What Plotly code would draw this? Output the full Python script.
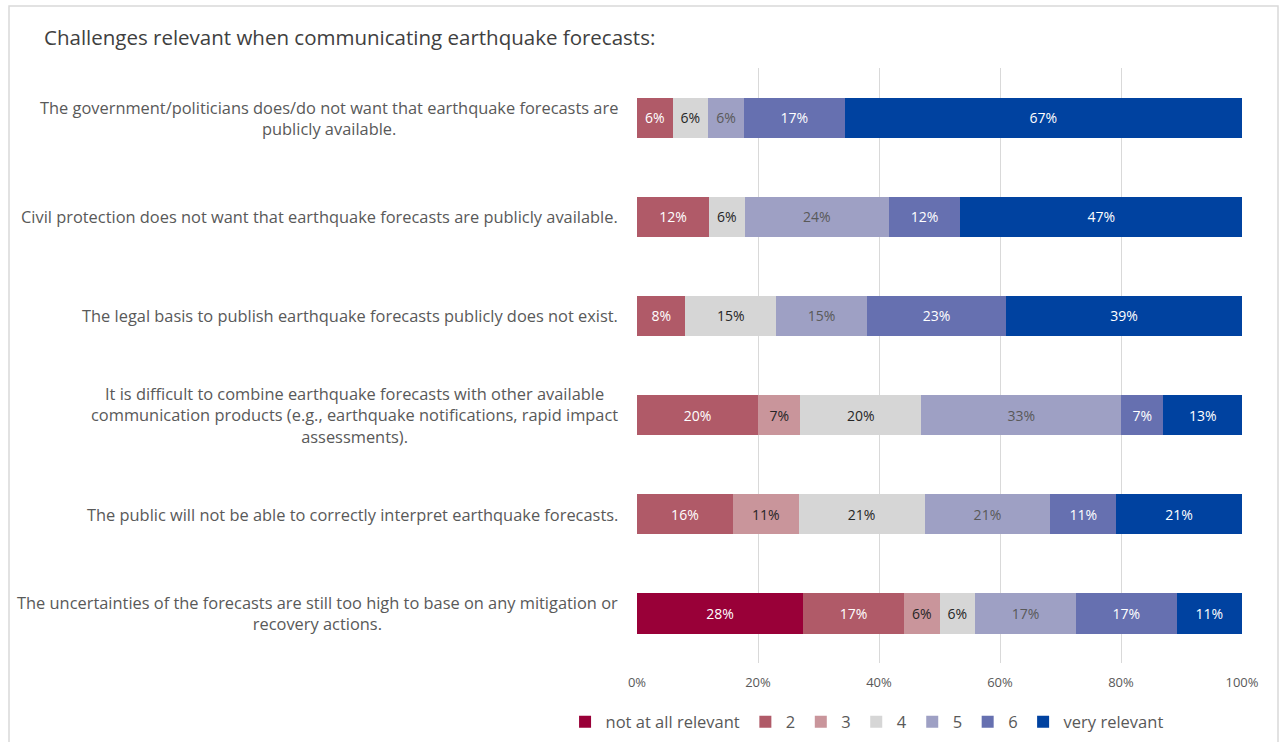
import plotly.graph_objects as go

# Survey statements, listed top to bottom
statements = [
    "The government/politicians does/do not want that earthquake forecasts are<br>publicly available.",
    "Civil protection does not want that earthquake forecasts are publicly available.",
    "The legal basis to publish earthquake forecasts publicly does not exist.",
    "It is difficult to combine earthquake forecasts with other available<br>communication products (e.g., earthquake notifications, rapid impact<br>assessments).",
    "The public will not be able to correctly interpret earthquake forecasts.",
    "The uncertainties of the forecasts are still too high to base on any mitigation or<br>recovery actions.",
]

# Share of answers (%) per relevance level, one value per statement
not_at_all_relevant = [None, None, None, None, None, 28]
level_2 = [6, 12, 8, 20, 16, 17]
level_3 = [None, None, None, 7, 11, 6]
level_4 = [6, 6, 15, 20, 21, 6]
level_5 = [6, 24, 15, 33, 21, 17]
level_6 = [17, 12, 23, 7, 11, 17]
very_relevant = [67, 47, 39, 13, 21, 11]

level_names = ["not at all relevant", "2", "3", "4", "5", "6", "very relevant"]
level_values = [not_at_all_relevant, level_2, level_3, level_4, level_5, level_6, very_relevant]
level_colors = ["#990038", "#B05A68", "#C9959B", "#D6D6D6", "#9EA0C4", "#6670B0", "#0042A0"]
label_colors = ["#FFFFFF", "#FFFFFF", "#262626", "#262626", "#595959", "#FFFFFF", "#FFFFFF"]

tick_values = [0, 20, 40, 60, 80, 100]
tick_labels = ["0%", "20%", "40%", "60%", "80%", "100%"]

FONT = "'Open Sans', Lato, sans-serif"

fig = go.Figure()
for name, vals, color, tcolor in zip(level_names, level_values, level_colors, label_colors):
    fig.add_trace(go.Bar(
        name=name,
        y=statements,
        x=vals,
        orientation="h",
        marker=dict(color=color, line=dict(width=0)),
        text=vals,
        texttemplate="%{text}%",
        textposition="inside",
        insidetextanchor="middle",
        textangle=0,
        constraintext="none",
        textfont=dict(family=FONT, size=14, color=tcolor),
    ))

# Statement labels: centred lines, right edge next to the bars
for s in statements:
    fig.add_annotation(
        xref="paper", yref="y", x=-0.0285, y=s,
        text=s, showarrow=False,
        xanchor="right", yanchor="middle", align="center",
        font=dict(family=FONT, size=16.4, color="#595959"),
    )

# Title
fig.add_annotation(
    xref="paper", yref="paper", x=-0.9835, y=1.052,
    text="Challenges relevant when communicating earthquake forecasts:",
    showarrow=False, xanchor="left", yanchor="middle",
    font=dict(family=FONT, size=20.5, color="#404040"),
)

# Frame around the chart
fig.add_shape(
    type="rect", xref="paper", yref="paper",
    x0=-1.038, x1=1.0595, y0=-0.15, y1=1.104,
    line=dict(color="#D9D9D9", width=1.5), fillcolor="rgba(0,0,0,0)",
    layer="below",
)

fig.update_layout(
    width=1280, height=742,
    margin=dict(l=637, r=38, t=68, b=79, autoexpand=False),
    barmode="stack",
    barnorm="percent",
    bargap=0.595,
    plot_bgcolor="white",
    paper_bgcolor="white",
    showlegend=True,
    legend=dict(
        orientation="h",
        xref="container", yref="container",
        x=0.677, xanchor="center",
        y=0.027, yanchor="middle",
        font=dict(family=FONT, size=16.5, color="#595959"),
        itemwidth=31,
        traceorder="normal",
        itemclick=False, itemdoubleclick=False,
    ),
    xaxis=dict(
        range=[0, 100],
        tickmode="array",
        tickvals=tick_values,
        ticktext=tick_labels,
        showgrid=True,
        gridcolor="#D9D9D9",
        gridwidth=1,
        zeroline=False,
        showline=False,
        tickfont=dict(family=FONT, size=13, color="#595959"),
        ticklabelstandoff=10,
        fixedrange=True,
    ),
    yaxis=dict(
        autorange="reversed",
        showticklabels=False,
        showgrid=False,
        zeroline=False,
        fixedrange=True,
    ),
)

fig.write_html("out.html")
